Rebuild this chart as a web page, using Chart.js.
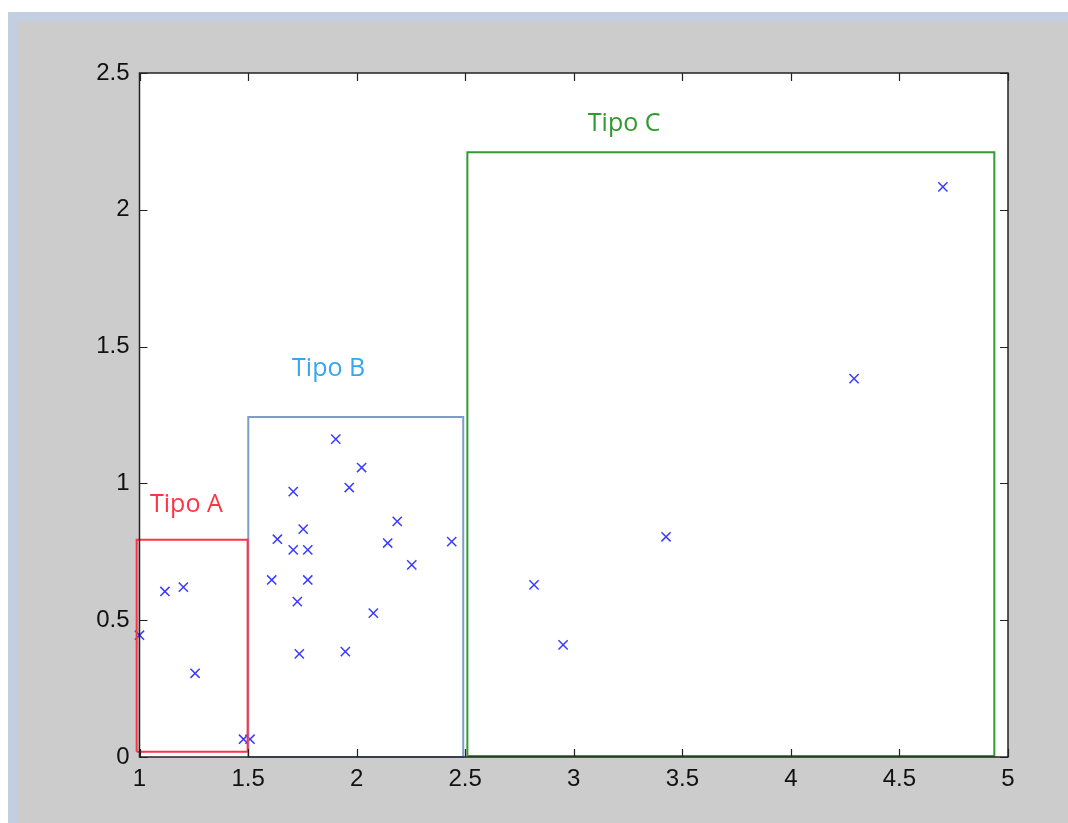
<!DOCTYPE html>
<html>
<head>
<meta charset="utf-8">
<script src="https://cdn.jsdelivr.net/npm/chart.js@4/dist/chart.umd.min.js"></script>
<style>
  html, body { margin: 0; padding: 0; background: #ffffff; }
  #frame { position: absolute; left: 8px; top: 12px; width: 1060px; height: 811px; background: #c3cfe1; }
  #panel { position: absolute; left: 17px; top: 22px; width: 1051px; height: 801px; background: #cccccc; }
  #wrap { position: absolute; left: 0; top: 0; width: 1068px; height: 823px; }
</style>
</head>
<body>
<div id="frame"></div>
<div id="panel"></div>
<div id="wrap"><canvas id="myChart" width="1068" height="823"></canvas></div>
<script>
// scatter points per group
const tipoAX = [1.00, 1.117, 1.202, 1.256, 1.479, 1.509];
const tipoAY = [0.445, 0.605, 0.621, 0.306, 0.065, 0.065];

const tipoBX = [1.904, 2.023, 1.966, 1.708, 2.187, 1.754, 1.635, 2.143, 2.438, 1.708, 1.775, 2.254, 1.609, 1.775, 1.727, 2.077, 1.736, 1.948];
const tipoBY = [1.162, 1.058, 0.985, 0.970, 0.861, 0.833, 0.796, 0.782, 0.787, 0.757, 0.757, 0.702, 0.647, 0.647, 0.568, 0.526, 0.377, 0.385];

const tipoCX = [2.817, 2.951, 3.425, 4.291, 4.700];
const tipoCY = [0.629, 0.410, 0.805, 1.383, 2.084];

// group boxes: [xmin, xmax, ymin, ymax]
const boxA = [0.987, 1.498, 0.019, 0.794];
const boxB = [1.501, 2.491, 0.0, 1.2425];
const boxC = [2.510, 4.937, 0.004, 2.210];

// group labels and where they sit (data units: centre x, baseline y)
const groupNames = ['Tipo A', 'Tipo B', 'Tipo C'];
const labelX = [1.216, 1.871, 3.232];
const labelY = [0.896, 1.391, 2.287];

// axes
const xTicks = [1, 1.5, 2, 2.5, 3, 3.5, 4, 4.5, 5];
const yTicks = [0, 0.5, 1, 1.5, 2, 2.5];

const groupColors = ['#ff3344', '#7f9cc8', '#2f9e2f'];
const labelColors = ['#ff3344', '#35a7ee', '#2f9a2f'];
const markerColor = '#3b3bff';

const toPoints = (xs, ys) => xs.map((x, i) => ({ x: x, y: ys[i] }));
const toRect = (b) => [
    { x: b[0], y: b[2] }, { x: b[1], y: b[2] },
    { x: b[1], y: b[3] }, { x: b[0], y: b[3] },
    { x: b[0], y: b[2] }
];

const boxDataset = (b, color) => ({
    type: 'line',
    data: toRect(b),
    borderColor: color,
    borderWidth: 2,
    pointRadius: 0,
    fill: false,
    tension: 0,
    clip: false
});

const markerDataset = (xs, ys) => ({
    type: 'scatter',
    data: toPoints(xs, ys),
    pointStyle: 'crossRot',
    pointRadius: 6.5,
    borderColor: markerColor,
    borderWidth: 1.5,
    backgroundColor: markerColor,
    clip: false
});

// white plot area, matlab style box with inward ticks on all sides, group labels
const matlabAxes = {
    id: 'matlabAxes',
    beforeDraw(chart) {
        const { ctx, chartArea: a } = chart;
        ctx.save();
        ctx.fillStyle = '#ffffff';
        ctx.fillRect(a.left, a.top, a.right - a.left, a.bottom - a.top);
        ctx.restore();
    },
    afterDatasetsDraw(chart) {
        const { ctx, chartArea: a, scales } = chart;
        ctx.save();
        ctx.strokeStyle = '#222222';
        ctx.lineWidth = 1.5;
        ctx.strokeRect(a.left, a.top, a.right - a.left, a.bottom - a.top);
        ctx.lineWidth = 1.2;
        const len = 8;
        ctx.beginPath();
        xTicks.forEach(v => {
            const px = Math.round(scales.x.getPixelForValue(v)) + 0.5;
            ctx.moveTo(px, a.bottom); ctx.lineTo(px, a.bottom - len);
            ctx.moveTo(px, a.top); ctx.lineTo(px, a.top + len);
        });
        yTicks.forEach(v => {
            const py = Math.round(scales.y.getPixelForValue(v)) + 0.5;
            ctx.moveTo(a.left, py); ctx.lineTo(a.left + len, py);
            ctx.moveTo(a.right, py); ctx.lineTo(a.right - len, py);
        });
        ctx.stroke();

        ctx.font = '25px "Open Sans"';
        ctx.textAlign = 'center';
        ctx.textBaseline = 'alphabetic';
        groupNames.forEach((name, i) => {
            ctx.fillStyle = labelColors[i];
            ctx.fillText(name, scales.x.getPixelForValue(labelX[i]), scales.y.getPixelForValue(labelY[i]));
        });
        ctx.restore();
    }
};

new Chart(document.getElementById('myChart').getContext('2d'), {
    data: {
        datasets: [
            boxDataset(boxA, groupColors[0]),
            boxDataset(boxB, groupColors[1]),
            boxDataset(boxC, groupColors[2]),
            markerDataset(tipoAX, tipoAY),
            markerDataset(tipoBX, tipoBY),
            markerDataset(tipoCX, tipoCY)
        ]
    },
    options: {
        responsive: false,
        animation: false,
        layout: { padding: { top: 73, right: 60, left: 0, bottom: 0 } },
        plugins: { legend: { display: false }, tooltip: { enabled: false } },
        scales: {
            x: {
                type: 'linear',
                min: 1, max: 5,
                grid: { display: false, drawTicks: false },
                border: { display: false },
                afterBuildTicks: (s) => { s.ticks = xTicks.map(v => ({ value: v })); },
                afterFit: (s) => { s.height = 66; },
                ticks: {
                    padding: 8,
                    color: '#111111',
                    font: { family: '"Liberation Sans", Arial', size: 24 },
                    maxRotation: 0,
                    callback: (v) => String(v)
                }
            },
            y: {
                type: 'linear',
                min: 0, max: 2.5,
                grid: { display: false, drawTicks: false },
                border: { display: false },
                afterBuildTicks: (s) => { s.ticks = yTicks.map(v => ({ value: v })); },
                afterFit: (s) => { s.width = 139.5; },
                ticks: {
                    padding: 10,
                    color: '#111111',
                    font: { family: '"Liberation Sans", Arial', size: 24 },
                    callback: (v) => String(v)
                }
            }
        }
    },
    plugins: [matlabAxes]
});
</script>
</body>
</html>
